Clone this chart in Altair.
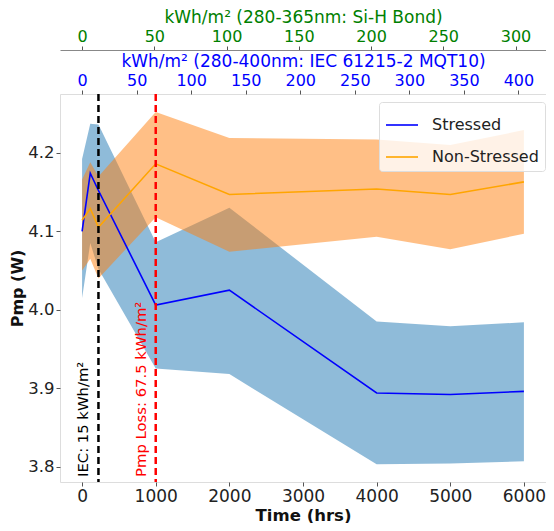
import altair as alt
import pandas as pd

time_hrs = [0, 111, 222, 1000, 2000, 4000, 5000, 6000]

stressed_mean = [4.100, 4.174, 4.152, 4.006, 4.025, 3.894, 3.892, 3.896]
stressed_upper = [4.192, 4.237, 4.236, 4.086, 4.130, 3.985, 3.979, 3.984]
stressed_lower = [4.015, 4.085, 4.052, 3.925, 3.918, 3.803, 3.804, 3.807]

nonstressed_mean = [4.114, 4.129, 4.105, 4.186, 4.147, 4.154, 4.147, 4.163]
nonstressed_upper = [4.166, 4.188, 4.170, 4.252, 4.219, 4.217, 4.210, 4.229]
nonstressed_lower = [4.050, 4.065, 4.040, 4.118, 4.074, 4.093, 4.077, 4.097]

# dose conversions used for the two top axes
hrs_per_kwh_uv = 1000 / 67.5   # 280-400nm
hrs_per_kwh_sih = 19.62        # 280-365nm

time_ticks = [0, 1000, 2000, 3000, 4000, 5000, 6000]
pmp_ticks = [3.8, 3.9, 4.0, 4.1, 4.2]
uv_ticks = [0, 50, 100, 150, 200, 250, 300, 350, 400]
sih_ticks = [0, 50, 100, 150, 200, 250, 300]

marker_kwh = [15, 67.5]
marker_labels = ['IEC: 15 kWh/m²', 'Pmp Loss: 67.5 kWh/m²']
marker_colors = ['black', 'red']

FONT = 'DejaVu Sans'
x_scale = alt.Scale(domain=[-300, 6300], nice=False, zero=False)
y_scale = alt.Scale(domain=[3.7805, 4.275], nice=False, zero=False)

stressed = pd.DataFrame({'hrs': time_hrs, 'mean': stressed_mean,
                         'lower': stressed_lower, 'upper': stressed_upper,
                         'series': 'Stressed'})
nonstressed = pd.DataFrame({'hrs': time_hrs, 'mean': nonstressed_mean,
                            'lower': nonstressed_lower, 'upper': nonstressed_upper,
                            'series': 'Non-Stressed'})
both = pd.concat([stressed, nonstressed])

markers = pd.DataFrame({'hrs': [k * hrs_per_kwh_uv for k in marker_kwh],
                        'label': marker_labels, 'color': marker_colors,
                        'pmp': [3.787, 3.787]})

axis_common = dict(labelColor='#222222', titleColor='#111111', tickColor='#555555',
                   domain=False, grid=False, tickSize=4, labelFont=FONT,
                   titleFont=FONT, titleFontWeight='bold')

band_s = alt.Chart(stressed).mark_area(color='#1f77b4', opacity=0.5).encode(
    x=alt.X('hrs:Q', scale=x_scale,
            axis=alt.Axis(orient='bottom', values=time_ticks, format='d',
                          title='Time (hrs)', labelFontSize=17, titleFontSize=16.5,
                          labelPadding=2, titlePadding=3, **axis_common)),
    y=alt.Y('lower:Q', scale=y_scale,
            axis=alt.Axis(values=pmp_ticks, format='.1f', title='Pmp (W)',
                          labelFontSize=16.5, titleFontSize=16,
                          labelPadding=2, titlePadding=2, **axis_common)),
    y2='upper:Q')

band_n = alt.Chart(nonstressed).mark_area(color='#ff7f0e', opacity=0.5).encode(
    x=alt.X('hrs:Q', scale=x_scale, axis=None),
    y=alt.Y('lower:Q', scale=y_scale, axis=None),
    y2='upper:Q')

lines = alt.Chart(both).mark_line(strokeWidth=1.6).encode(
    x=alt.X('hrs:Q', scale=x_scale, axis=None),
    y=alt.Y('mean:Q', scale=y_scale, axis=None),
    color=alt.Color('series:N',
                    scale=alt.Scale(domain=['Stressed', 'Non-Stressed'],
                                    range=['blue', 'orange']),
                    legend=alt.Legend(title=None, orient='none', legendX=319, legendY=8,
                                      symbolType='stroke', symbolSize=1024,
                                      symbolStrokeWidth=1.6, labelFontSize=16,
                                      labelFont=FONT, labelColor='#222222',
                                      labelOffset=13, rowPadding=7, padding=6,
                                      strokeColor='#dddddd', cornerRadius=3,
                                      fillColor='rgba(255,255,255,0.8)')),
    detail='series:N')

rules = alt.Chart(markers).mark_rule(strokeDash=[7, 4], strokeWidth=2.5).encode(
    x=alt.X('hrs:Q', scale=x_scale, axis=None),
    color=alt.Color('color:N', scale=None))

texts = alt.Chart(markers).mark_text(angle=270, align='left', baseline='bottom',
                                     dy=-7, fontSize=14.8, font=FONT).encode(
    x=alt.X('hrs:Q', scale=x_scale, axis=None),
    y=alt.Y('pmp:Q', scale=y_scale, axis=None),
    text='label:N',
    color=alt.Color('color:N', scale=None))

top_common = dict(labelFontSize=16, titleFontSize=17, tickColor='#555555',
                  grid=False, tickSize=4, labelFont=FONT, titleFont=FONT,
                  titleFontWeight='normal', labelPadding=2, titlePadding=2)

uv_axis = alt.Chart(pd.DataFrame({'hrs': [k * hrs_per_kwh_uv for k in uv_ticks]})).mark_point(
    opacity=0).encode(
    x=alt.X('hrs:Q', scale=x_scale,
            axis=alt.Axis(orient='top', values=[k * hrs_per_kwh_uv for k in uv_ticks],
                          labelExpr="format(round(datum.value / %f), 'd')" % hrs_per_kwh_uv,
                          title='kWh/m² (280-400nm: IEC 61215-2 MQT10)',
                          labelColor='blue', titleColor='blue', domain=False,
                          **top_common)))

sih_axis = alt.Chart(pd.DataFrame({'hrs': [k * hrs_per_kwh_sih for k in sih_ticks]})).mark_point(
    opacity=0).encode(
    x=alt.X('hrs:Q', scale=x_scale,
            axis=alt.Axis(orient='top', offset=44, values=[k * hrs_per_kwh_sih for k in sih_ticks],
                          labelExpr="format(round(datum.value / %f), 'd')" % hrs_per_kwh_sih,
                          title='kWh/m² (280-365nm: Si-H Bond)',
                          labelColor='green', titleColor='green', domain=True,
                          domainColor='#888888', domainWidth=1.2,
                          **top_common)))

chart = alt.layer(band_s, band_n, lines, rules, texts, uv_axis, sih_axis).resolve_axis(
    x='independent', y='independent'
).properties(
    width=486, height=388,
    autosize=alt.AutoSizeParams(type='none'),
    padding={'left': 52, 'top': 86, 'right': 0, 'bottom': 41}
).configure_view(
    stroke='#888888', strokeWidth=1.2
).configure(font=FONT)

chart.save('out.html', embed_options={'renderer': 'svg', 'actions': False})
